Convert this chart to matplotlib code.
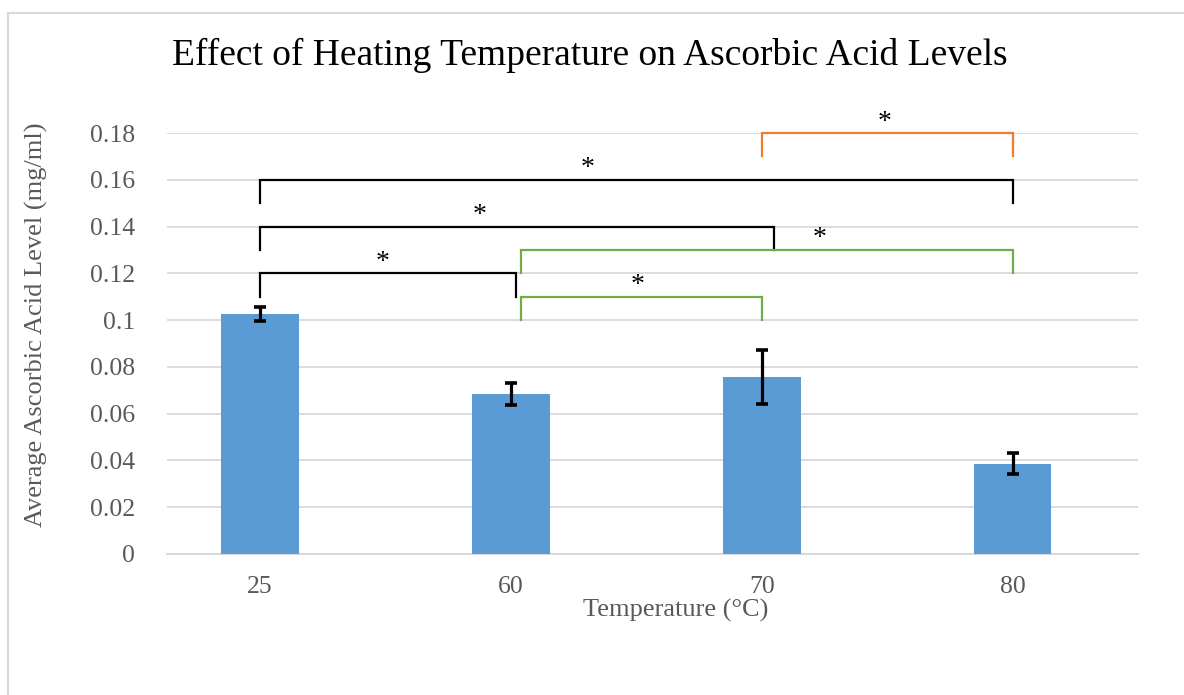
import matplotlib
matplotlib.use("Agg")
import matplotlib.pyplot as plt
from matplotlib.lines import Line2D
import numpy as np

# ---- data ----
temps = ["25", "60", "70", "80"]
means = [0.1026, 0.0684, 0.0757, 0.0385]
errors = [0.0030, 0.0045, 0.0115, 0.0045]

y_ticks = [0, 0.02, 0.04, 0.06, 0.08, 0.10, 0.12, 0.14, 0.16, 0.18]
y_tick_labels = ["0", "0.02", "0.04", "0.06", "0.08", "0.1", "0.12", "0.14", "0.16", "0.18"]

# significance brackets (category index positions)
br_left = [0, 0, 0, 2, 1.04, 1.04]
br_right = [1.02, 2.05, 3, 3, 2, 3]
br_level = [0.12, 0.14, 0.16, 0.18, 0.11, 0.13]
br_color = ["black", "black", "black", "#ED7D31", "#70AD47", "#70AD47"]
star_x = [0.49, 0.876, 1.307, 2.49, 1.506, 2.231]
br_drop = 0.01

title = "Effect of Heating Temperature on Ascorbic Acid Levels"
xlabel = "Temperature (\u00b0C)"
ylabel = "Average Ascorbic Acid Level (mg/ml)"

# ---- style ----
plt.rcParams["font.family"] = ["Liberation Serif", "DejaVu Serif"]
W, H = 1184, 695
fig = plt.figure(figsize=(W / 100, H / 100), dpi=100)

# outer chart border
fig.add_artist(Line2D([8 / W, 1.0], [1 - 13 / H, 1 - 13 / H], color="#D9D9D9", lw=1.5))
fig.add_artist(Line2D([8 / W, 8 / W], [0, 1 - 13 / H], color="#D9D9D9", lw=1.5))

left, right = 167 / W, 1138 / W
bottom, top = 1 - 554 / H, 1 - 133 / H
ax = fig.add_axes([left, bottom, right - left, top - bottom])

x = np.arange(len(temps))
ax.bar(x, means, width=0.31, color="#5B9BD5", zorder=2)
ax.errorbar(x, means, yerr=errors, fmt="none", ecolor="black", elinewidth=2.3,
            capsize=4.5, capthick=2.6, zorder=3)

ax.set_xlim(-0.37, 3.5)
ax.set_ylim(0, 0.18)
ax.set_yticks(y_ticks)
ax.set_yticklabels(y_tick_labels)
ax.set_xticks(x)
ax.set_xticklabels(temps)

ax.yaxis.grid(True, color="#D9D9D9", lw=1.3, zorder=0)
ax.set_axisbelow(True)
for s in ["top", "right", "left"]:
    ax.spines[s].set_visible(False)
ax.spines["bottom"].set_color("#D9D9D9")
ax.spines["bottom"].set_linewidth(1.5)
ax.spines["bottom"].set_zorder(1)
ax.tick_params(axis="both", length=0, labelsize=18.5, labelcolor="#595959")
ax.tick_params(axis="y", pad=23)
ax.tick_params(axis="x", pad=16)

# brackets
for l, r, lev, c, sx in zip(br_left, br_right, br_level, br_color, star_x):
    ax.plot([l, l, r, r], [lev - br_drop, lev, lev, lev - br_drop], color=c,
            lw=1.6, clip_on=False, zorder=4, solid_joinstyle="miter")
    ax.text(sx, lev + 0.0047, "*", ha="center", va="center", fontsize=20,
            color="black", clip_on=False)

ax.set_xlabel(xlabel, fontsize=19, color="#595959")
ax.xaxis.set_label_coords((676 - 167) / (1138 - 167), -(610 - 554) / 421)
ax.xaxis.label.set_va("center")
ax.set_ylabel(ylabel, fontsize=19, color="#595959")
ax.yaxis.set_label_coords(-(167 - 36) / 971, (554 - 325) / 421)
ax.yaxis.label.set_va("center")

fig.text(590 / W, 1 - 55 / H, title, ha="center", va="center", fontsize=27, color="black")

fig.savefig("out.png", dpi=100)
